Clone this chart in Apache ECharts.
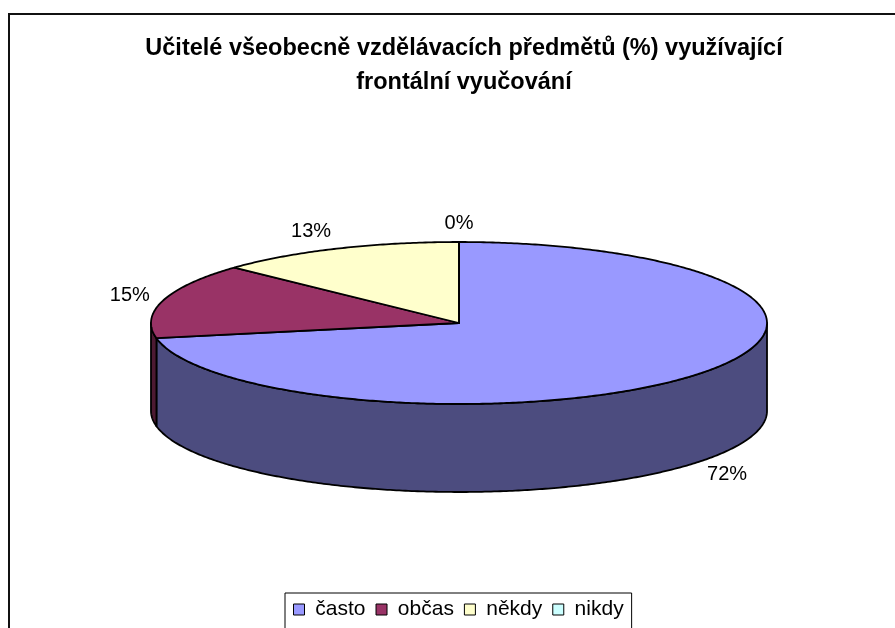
<!DOCTYPE html>
<html>
<head>
<meta charset="utf-8">
<script src="https://cdn.jsdelivr.net/npm/echarts@6/dist/echarts.min.js"></script>
<style>
  html, body { margin: 0; padding: 0; background: #fff; }
  #chart { width: 895px; height: 628px; }
</style>
</head>
<body>
<div id="chart"></div>
<script>
// data
var categories = ['často', 'občas', 'někdy', 'nikdy'];
var values = [72, 15, 13, 0];
var topColors = ['#9999FF', '#993366', '#FFFFCC', '#CCFFFF'];
var sideColors = ['#4C4C7F', '#4D1A33', '#7F7F66', '#667F7F'];

// layout of the tilted pie
var cx = 459, cy = 323, rx = 308, ry = 81, depth = 88;
var total = values.reduce(function (a, b) { return a + b; }, 0);

function rim(a, dy) {
  // angle clockwise from 12 o'clock
  return [cx + rx * Math.sin(a), cy - ry * Math.cos(a) + dy];
}

function arc(a0, a1, dy) {
  var n = Math.max(2, Math.ceil(Math.abs(a1 - a0) / 0.01));
  var pts = [];
  for (var k = 0; k <= n; k++) {
    pts.push(rim(a0 + (a1 - a0) * k / n, dy));
  }
  return pts;
}

function renderSlice(i) {
  return function (params, api) {
    var start = 0;
    for (var j = 0; j < i; j++) start += values[j];
    var v = api.value(0);
    var a0 = start / total * Math.PI * 2;
    var a1 = (start + v) / total * Math.PI * 2;
    var children = [];

    // outer wall, only the front half is visible
    var w0 = Math.max(a0, Math.PI / 2), w1 = Math.min(a1, Math.PI * 1.5);
    if (w1 > w0) {
      var wall = arc(w0, w1, 0).concat(arc(w1, w0, depth));
      children.push({
        type: 'polygon',
        shape: { points: wall },
        style: { fill: sideColors[i], stroke: '#000', lineWidth: 1.8, lineJoin: 'round' },
        z2: 1
      });
    }

    // top face
    var pts = [[cx, cy]].concat(arc(a0, a1, 0));
    children.push({
      type: 'polygon',
      shape: { points: pts },
      style: { fill: topColors[i], stroke: '#000', lineWidth: 1.8, lineJoin: 'round' },
      z2: 3
    });

    // data label
    var m = (a0 + a1) / 2;
    var s = Math.sin(m), c = Math.cos(m);
    var lx = cx + (rx + 14) * s;
    var ly = cy - 100 * c + (c < 0 ? depth : 0);
    var align = s < -0.1 ? 'right' : (s > 0.1 ? 'left' : 'center');
    children.push({
      type: 'text',
      x: lx, y: ly,
      style: {
        text: v + '%',
        fill: '#000',
        font: '20px "Liberation Sans", Arial, sans-serif',
        align: align,
        verticalAlign: 'middle'
      },
      z2: 5
    });

    return { type: 'group', children: children };
  };
}

var series = categories.map(function (name, i) {
  return {
    type: 'custom',
    name: name,
    coordinateSystem: 'none',
    silent: true,
    animation: false,
    itemStyle: { color: topColors[i], borderColor: '#000', borderWidth: 1 },
    renderItem: renderSlice(i),
    data: [[values[i]]]
  };
});

var chart = echarts.init(document.getElementById('chart'));
chart.setOption({
  backgroundColor: '#fff',
  animation: false,
  title: {
    text: 'Učitelé všeobecně vzdělávacích předmětů (%) využívající\nfrontální vyučování',
    left: 459,
    textAlign: 'center',
    top: 27,
    textStyle: {
      fontFamily: '"Liberation Sans", Arial, sans-serif',
      fontSize: 23.5,
      fontWeight: 'bold',
      color: '#000',
      lineHeight: 34
    }
  },
  legend: {
    data: categories,
    left: 285,
    top: 593,
    orient: 'horizontal',
    icon: 'rect',
    itemWidth: 11,
    itemHeight: 11,
    itemGap: 10,
    padding: [6, 8, 20, 8],
    borderColor: '#000',
    borderWidth: 1,
    formatter: ' {name}',
    itemStyle: { borderColor: '#000', borderWidth: 1 },
    textStyle: {
      fontFamily: '"Liberation Sans", Arial, sans-serif',
      fontSize: 21,
      lineHeight: 20,
      color: '#000'
    }
  },
  graphic: [{
    type: 'rect',
    shape: { x: 9, y: 14, width: 1000, height: 1000 },
    style: { fill: null, stroke: '#111', lineWidth: 2 },
    silent: true,
    z: -1
  }],
  series: series
});
</script>
</body>
</html>
